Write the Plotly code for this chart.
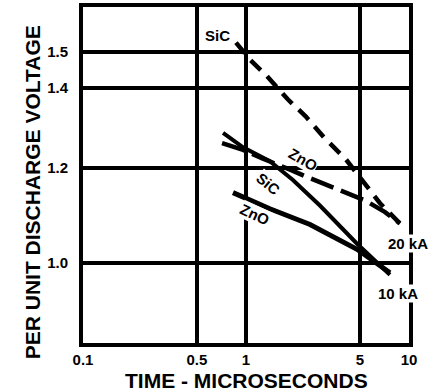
import math
import plotly.graph_objects as go

# ---- data ----
sic_20_x = [0.868, 1.058, 1.33, 1.81, 2.33, 3.01, 4.11, 5.44, 6.64, 8.81]
sic_20_y = [1.527, 1.478, 1.434, 1.369, 1.325, 1.273, 1.220, 1.164, 1.122, 1.079]

zno_20_x = [0.713, 0.959, 1.27, 1.57, 1.91, 2.33, 3.05, 4.05, 5.37, 7.13, 8.81]
zno_20_y = [1.259, 1.243, 1.222, 1.209, 1.195, 1.181, 1.164, 1.147, 1.128, 1.103, 1.079]

sic_10_x = [0.723, 0.959, 1.40, 1.94, 2.84, 4.80, 7.64]
sic_10_y = [1.284, 1.249, 1.216, 1.173, 1.117, 1.038, 0.978]

zno_10_x = [0.832, 1.40, 2.47, 4.80, 7.64]
zno_10_y = [1.145, 1.110, 1.077, 1.027, 0.982]

x_ticks = [0.1, 0.5, 1, 5, 10]
x_tick_text = ["0.1", "0.5", "1", "5", "10"]
y_ticks = [1.0, 1.2, 1.4, 1.5]
y_tick_text = ["1.0", "1.2", "1.4", "1.5"]

label_text = ["SiC", "ZnO", "SiC", "ZnO", "20 kA", "10 kA"]
label_x = [0.673, 2.24, 1.365, 1.135, 9.86, 8.57]
label_y = [1.547, 1.22, 1.166, 1.099, 1.038, 0.944]
label_angle = [0, 30, 40, 25, 0, 0]

x_title = "TIME - MICROSECONDS"
y_title = "PER UNIT DISCHARGE VOLTAGE"

FONT = "Liberation Sans, Arial, sans-serif"

fig = go.Figure()
fig.add_trace(go.Scatter(x=sic_20_x, y=sic_20_y, mode="lines",
                         line=dict(color="black", width=4.5, dash="14px,9px")))
fig.add_trace(go.Scatter(x=zno_20_x, y=zno_20_y, mode="lines",
                         line=dict(color="black", width=4.5, dash="24px,8px")))
fig.add_trace(go.Scatter(x=sic_10_x, y=sic_10_y, mode="lines",
                         line=dict(color="black", width=4)))
fig.add_trace(go.Scatter(x=zno_10_x, y=zno_10_y, mode="lines",
                         line=dict(color="black", width=5)))

ann_font = dict(family=FONT, size=15, color="black", weight="bold")
for t, lx, ly, ang in zip(label_text, label_x, label_y, label_angle):
    fig.add_annotation(x=math.log10(lx), y=math.log10(ly), xref="x", yref="y",
                       text=t, textangle=ang, showarrow=False,
                       font=ann_font, bgcolor="white", borderpad=0)

title_font = dict(family=FONT, size=21, color="black", weight="bold")
fig.add_annotation(x=0.5, y=-0.112, xref="paper", yref="paper", text=x_title,
                   showarrow=False, font=title_font, yanchor="middle", xanchor="center")
fig.add_annotation(x=-0.156, y=0.449, xref="paper", yref="paper", text=y_title,
                   showarrow=False, font=title_font, textangle=-90,
                   yanchor="middle", xanchor="center")

tick_font = dict(family=FONT, size=15, color="black", weight="bold")
fig.update_xaxes(type="log", range=[-1, 1], tickvals=x_ticks, ticktext=x_tick_text,
                 showgrid=True, gridcolor="black", gridwidth=4,
                 showline=True, linecolor="black", linewidth=4, mirror=True,
                 zeroline=False, ticks="", automargin=False, ticklabelstandoff=0,
                 tickfont=tick_font)
fig.update_yaxes(type="log", range=[-0.0665, 0.2135], tickvals=y_ticks, ticktext=y_tick_text,
                 showgrid=True, gridcolor="black", gridwidth=4,
                 showline=True, linecolor="black", linewidth=4, mirror=True,
                 zeroline=False, ticks="", ticklabelstandoff=8, automargin=False,
                 tickfont=tick_font)

fig.update_layout(width=432, height=391, showlegend=False,
                  margin=dict(l=83, r=23, t=7, b=48),
                  plot_bgcolor="white", paper_bgcolor="white")
fig.write_html("out.html", config={"displayModeBar": False},
               post_script="document.body.style.margin='0';")
